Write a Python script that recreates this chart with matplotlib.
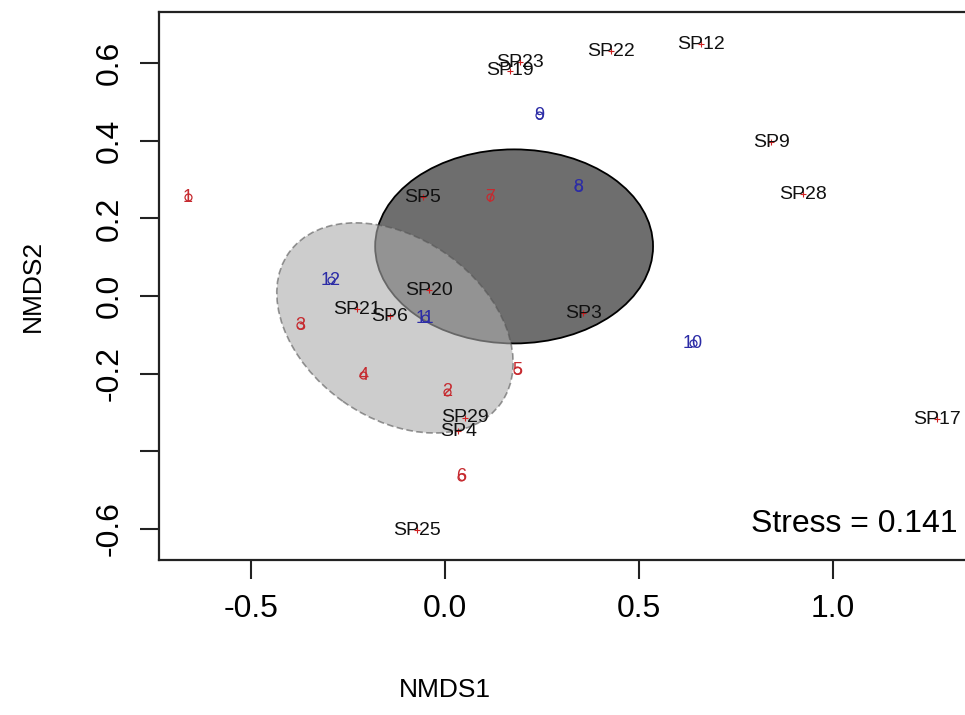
import matplotlib
matplotlib.use("Agg")
import matplotlib.pyplot as plt
from matplotlib.patches import Ellipse

plt.rcParams['font.family'] = ['Liberation Sans', 'DejaVu Sans']

# site scores (label, NMDS1, NMDS2); 1-7 red group, 8-12 blue group
site_lab = ["1", "2", "3", "4", "5", "6", "7", "8", "9", "10", "11", "12"]
site_x = [-0.662, 0.005, -0.374, -0.211, 0.186, 0.041, 0.116, 0.343, 0.242, 0.639, -0.052, -0.294]
site_y = [0.255, -0.247, -0.075, -0.204, -0.191, -0.466, 0.255, 0.281, 0.466, -0.121, -0.057, 0.041]
site_grp = ["A", "A", "A", "A", "A", "A", "A", "B", "B", "B", "B", "B"]

# species scores
sp_lab = ["SP23", "SP19", "SP22", "SP12", "SP9", "SP28", "SP5", "SP20", "SP21",
          "SP6", "SP3", "SP29", "SP4", "SP17", "SP25"]
sp_x = [0.193, 0.168, 0.428, 0.660, 0.840, 0.923, -0.057, -0.041, -0.227,
        -0.142, 0.356, 0.052, 0.034, 1.268, -0.072]
sp_y = [0.603, 0.580, 0.631, 0.649, 0.397, 0.263, 0.255, 0.015, -0.034,
        -0.052, -0.044, -0.314, -0.348, -0.317, -0.603]

# group ellipses: centre, full width, full height, angle
ell_B = (0.178, 0.128, 0.716, 0.500, 0)
ell_A = (-0.129, -0.082, 0.670, 0.464, -35.3)

stress = 0.141
xticks = [-0.5, 0.0, 0.5, 1.0]
yticks = [-0.6, -0.4, -0.2, 0.0, 0.2, 0.4, 0.6]
ylabs = ["-0.6", "", "-0.2", "0.0", "0.2", "0.4", "0.6"]

cols = {"A": "#c62a2f", "B": "#2c2ca6"}

fig = plt.figure(figsize=(9.65, 7.15), dpi=100)
ax = fig.add_axes([159/965, 155/715, 808/965, 548/715])
ax.set_xlim(-0.737, 1.345)
ax.set_ylim(-0.680, 0.732)

e1 = Ellipse(ell_B[:2], ell_B[2], ell_B[3], angle=ell_B[4], facecolor="#6e6e6e",
             edgecolor="black", lw=1.3, zorder=1)
ax.add_patch(e1)
e2 = Ellipse(ell_A[:2], ell_A[2], ell_A[3], angle=ell_A[4], facecolor="#adadad",
             edgecolor="#555555", lw=1.2, ls=(0, (4, 2)), alpha=0.6, zorder=2)
ax.add_patch(e2)

for lab, x, y, g in zip(site_lab, site_x, site_y, site_grp):
    ax.plot(x, y, 'o', ms=5, mfc='none', mec=cols[g], mew=0.9, zorder=3)
    ax.text(x, y, lab, color=cols[g], fontsize=13, ha='center', va='center', zorder=4)

ax.plot(sp_x, sp_y, '+', color="#d02020", ms=5, mew=0.8, ls='none', zorder=3)
for lab, x, y in zip(sp_lab, sp_x, sp_y):
    ax.text(x, y, lab, color="#111111", fontsize=14, ha='center', va='center', zorder=4)

ax.text(0.989, 0.066, "Stress = %.3f" % stress, transform=ax.transAxes,
        fontsize=23, ha='right', va='center')

ax.set_xticks(xticks)
ax.set_xticklabels(["%.1f" % t for t in xticks])
ax.set_yticks(yticks)
ax.set_yticklabels(ylabs, rotation=90, va='center')
ax.tick_params(length=13.5, width=1.5, labelsize=23, pad=11, color="#222222")
for s in ax.spines.values():
    s.set_linewidth(1.6)
    s.set_color("#222222")

ax.set_xlabel("NMDS1", fontsize=19)
ax.xaxis.set_label_coords(286/808, -0.215)
ax.set_ylabel("NMDS2", fontsize=19, labelpad=36)

fig.savefig("out.png", dpi=100)
